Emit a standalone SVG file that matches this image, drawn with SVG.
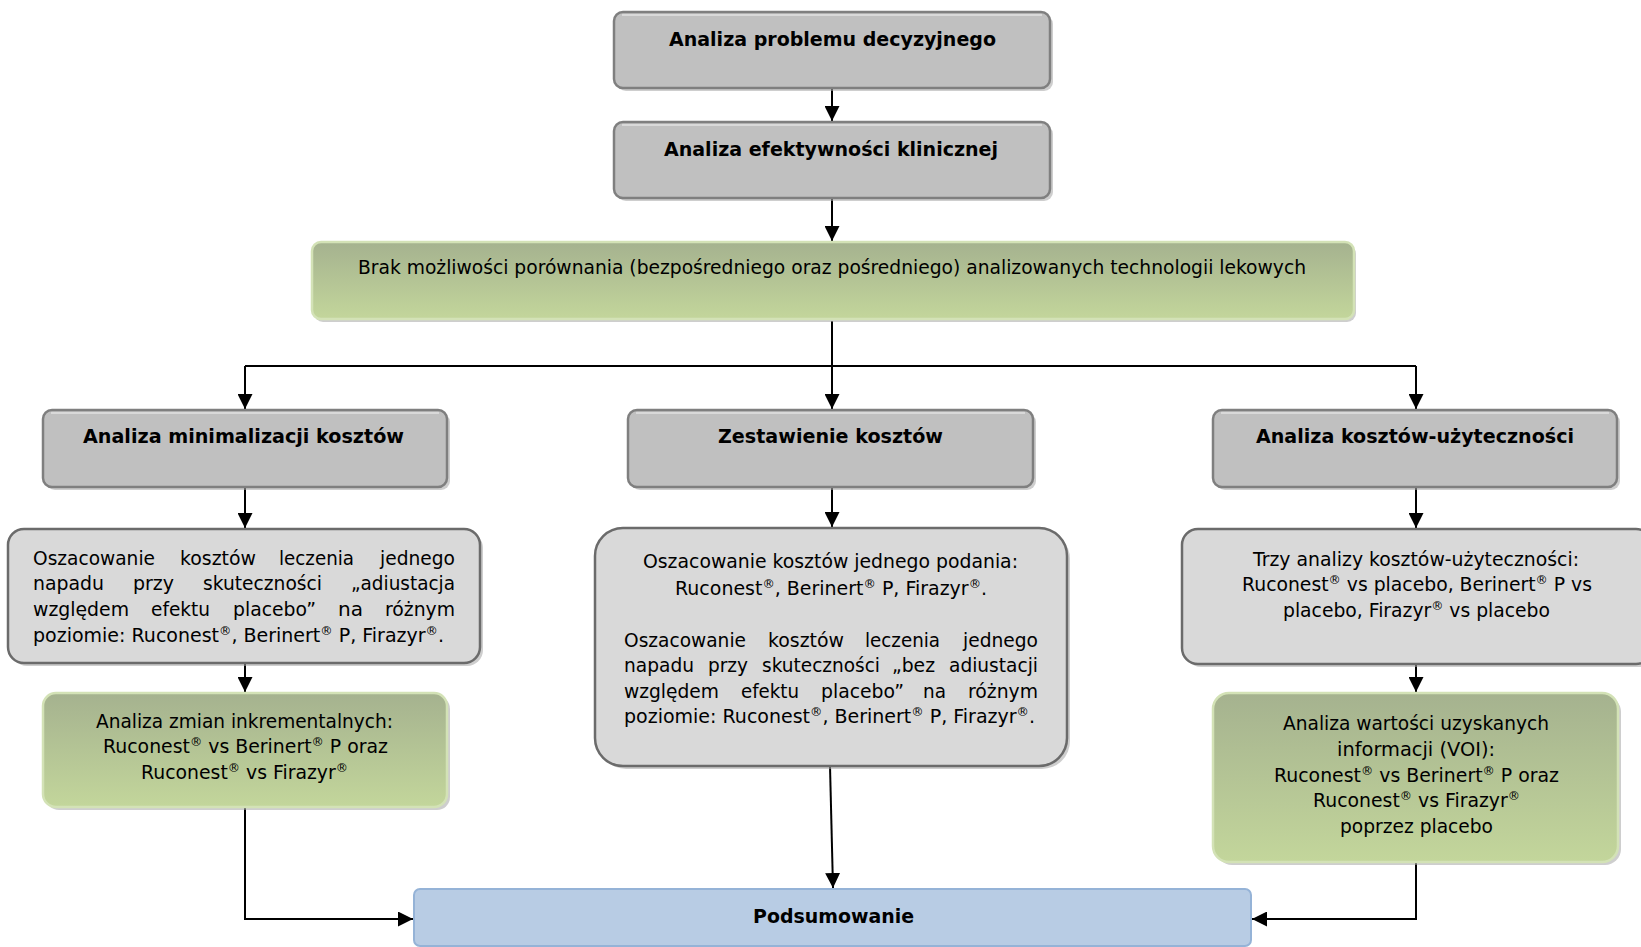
<svg xmlns="http://www.w3.org/2000/svg" width="1641" height="947" viewBox="0 0 1641 947">
<style>
.t{font-family:"DejaVu Sans","Verdana",sans-serif;font-size:20px;fill:#000}
.b{font-family:"DejaVu Sans","Verdana",sans-serif;font-size:19px;font-weight:bold;fill:#000}
.r{font-size:13px;baseline-shift:7px}
.hd{fill:#C0C0C0;stroke:#7F7F7F;stroke-width:2.5}
.lt{fill:#D9D9D9;stroke:#6B6B6B;stroke-width:2.5}
.gr{fill:url(#gg);stroke:#D3E2B6;stroke-width:2.5}
.bl{fill:#B8CCE4;stroke:#95B3D7;stroke-width:2}
.sh{fill:#A6A6A6;opacity:0.55}
.hi{fill:none;stroke:#FFFFFF;stroke-width:1.2;opacity:0.8}
.c{fill:none;stroke:#000;stroke-width:2}
.a{marker-end:url(#ar)}
</style>
<defs>
<linearGradient id="gg" x1="0" y1="0" x2="0" y2="1">
<stop offset="0" stop-color="#A5B28F"/>
<stop offset="1" stop-color="#C3D69B"/>
</linearGradient>
<marker id="ar" markerUnits="userSpaceOnUse" markerWidth="15" markerHeight="15" viewBox="0 0 10 10" refX="10" refY="5" orient="auto">
<path d="M0,0 L10,5 L0,10 z" fill="#000"/>
</marker>
</defs>
<rect width="1641" height="947" fill="#FFFFFF"/>

<g id="connectors">
<path class="c a" d="M832,88 V121"/>
<path class="c a" d="M832,198 V241"/>
<path class="c" d="M832,321 V366 M245,366 H1416"/>
<path class="c a" d="M245,366 V409"/>
<path class="c a" d="M832,366 V409"/>
<path class="c a" d="M1416,366 V409"/>
<path class="c a" d="M245,487 V528"/>
<path class="c a" d="M832,487 V527"/>
<path class="c a" d="M1416,487 V528"/>
<path class="c a" d="M245,663 V692"/>
<path class="c a" d="M1416,664 V692"/>
<path class="c a" d="M245,807 V919 H413"/>
<path class="c a" d="M830,766 L833,888"/>
<path class="c a" d="M1416,862 V919 H1252"/>
</g>

<g id="n1">
<rect class="sh" x="617" y="15" width="436" height="76" rx="9"/>
<rect class="hd" x="614" y="12" width="436" height="76" rx="9"/>
<path class="hi" d="M622,15 H1042"/>
<text class="b" x="669" y="46" textLength="327" lengthAdjust="spacingAndGlyphs">Analiza problemu decyzyjnego</text>
</g>

<g id="n2">
<rect class="sh" x="617" y="125" width="436" height="76" rx="9"/>
<rect class="hd" x="614" y="122" width="436" height="76" rx="9"/>
<path class="hi" d="M622,125 H1042"/>
<text class="b" x="664" y="156" textLength="334" lengthAdjust="spacingAndGlyphs">Analiza efektywności klinicznej</text>
</g>

<g id="n3">
<rect class="sh" x="314" y="245" width="1042" height="77" rx="9"/>
<rect class="gr" x="312" y="242" width="1042" height="77" rx="9"/>
<text class="t" x="358" y="274" textLength="948" lengthAdjust="spacingAndGlyphs">Brak możliwości porównania (bezpośredniego oraz pośredniego) analizowanych technologii lekowych</text>
</g>

<g id="n4">
<rect class="sh" x="46" y="413" width="404" height="77" rx="9"/>
<rect class="hd" x="43" y="410" width="404" height="77" rx="9"/>
<path class="hi" d="M51,413 H439"/>
<text class="b" x="83" y="443" textLength="321" lengthAdjust="spacingAndGlyphs">Analiza minimalizacji kosztów</text>
</g>

<g id="n5">
<rect class="sh" x="631" y="413" width="405" height="77" rx="9"/>
<rect class="hd" x="628" y="410" width="405" height="77" rx="9"/>
<path class="hi" d="M636,413 H1025"/>
<text class="b" x="718" y="443" textLength="225" lengthAdjust="spacingAndGlyphs">Zestawienie kosztów</text>
</g>

<g id="n6">
<rect class="sh" x="1216" y="413" width="404" height="77" rx="9"/>
<rect class="hd" x="1213" y="410" width="404" height="77" rx="9"/>
<path class="hi" d="M1221,413 H1609"/>
<text class="b" x="1256" y="443" textLength="318" lengthAdjust="spacingAndGlyphs">Analiza kosztów-użyteczności</text>
</g>

<g id="n7">
<rect class="sh" x="11" y="532" width="472" height="134" rx="16"/>
<rect class="lt" x="8" y="529" width="472" height="134" rx="16"/>
<text class="t" y="565"><tspan x="33" textLength="122" lengthAdjust="spacingAndGlyphs">Oszacowanie</tspan><tspan x="180" textLength="76" lengthAdjust="spacingAndGlyphs">kosztów</tspan><tspan x="279" textLength="75" lengthAdjust="spacingAndGlyphs">leczenia</tspan><tspan x="380" textLength="75" lengthAdjust="spacingAndGlyphs">jednego</tspan></text>
<text class="t" y="590"><tspan x="33" textLength="71" lengthAdjust="spacingAndGlyphs">napadu</tspan><tspan x="133" textLength="41" lengthAdjust="spacingAndGlyphs">przy</tspan><tspan x="203" textLength="119" lengthAdjust="spacingAndGlyphs">skuteczności</tspan><tspan x="351" textLength="104" lengthAdjust="spacingAndGlyphs">„adiustacja</tspan></text>
<text class="t" y="616"><tspan x="33" textLength="96" lengthAdjust="spacingAndGlyphs">względem</tspan><tspan x="151" textLength="59" lengthAdjust="spacingAndGlyphs">efektu</tspan><tspan x="233" textLength="83" lengthAdjust="spacingAndGlyphs">placebo”</tspan><tspan x="338" textLength="25" lengthAdjust="spacingAndGlyphs">na</tspan><tspan x="385" textLength="70" lengthAdjust="spacingAndGlyphs">różnym</tspan></text>
<text class="t" x="33" y="642" textLength="411" lengthAdjust="spacingAndGlyphs">poziomie: Ruconest<tspan class="r">®</tspan>, Berinert<tspan class="r">®</tspan> P, Firazyr<tspan class="r">®</tspan>.</text>
</g>

<g id="n8">
<rect class="sh" x="598" y="531" width="472" height="238" rx="28"/>
<rect class="lt" x="595" y="528" width="472" height="238" rx="28"/>
<text class="t" x="643" y="568" textLength="375" lengthAdjust="spacingAndGlyphs">Oszacowanie kosztów jednego podania:</text>
<text class="t" x="675" y="595" textLength="312" lengthAdjust="spacingAndGlyphs">Ruconest<tspan class="r">®</tspan>, Berinert<tspan class="r">®</tspan> P, Firazyr<tspan class="r">®</tspan>.</text>
<text class="t" y="647"><tspan x="624" textLength="122" lengthAdjust="spacingAndGlyphs">Oszacowanie</tspan><tspan x="768" textLength="76" lengthAdjust="spacingAndGlyphs">kosztów</tspan><tspan x="865" textLength="75" lengthAdjust="spacingAndGlyphs">leczenia</tspan><tspan x="963" textLength="75" lengthAdjust="spacingAndGlyphs">jednego</tspan></text>
<text class="t" y="672"><tspan x="624" textLength="70" lengthAdjust="spacingAndGlyphs">napadu</tspan><tspan x="708" textLength="40" lengthAdjust="spacingAndGlyphs">przy</tspan><tspan x="762" textLength="118" lengthAdjust="spacingAndGlyphs">skuteczności</tspan><tspan x="892" textLength="43" lengthAdjust="spacingAndGlyphs">„bez</tspan><tspan x="949" textLength="89" lengthAdjust="spacingAndGlyphs">adiustacji</tspan></text>
<text class="t" y="698"><tspan x="624" textLength="95" lengthAdjust="spacingAndGlyphs">względem</tspan><tspan x="741" textLength="58" lengthAdjust="spacingAndGlyphs">efektu</tspan><tspan x="821" textLength="83" lengthAdjust="spacingAndGlyphs">placebo”</tspan><tspan x="923" textLength="23" lengthAdjust="spacingAndGlyphs">na</tspan><tspan x="968" textLength="70" lengthAdjust="spacingAndGlyphs">różnym</tspan></text>
<text class="t" x="624" y="723" textLength="411" lengthAdjust="spacingAndGlyphs">poziomie: Ruconest<tspan class="r">®</tspan>, Berinert<tspan class="r">®</tspan> P, Firazyr<tspan class="r">®</tspan>.</text>
</g>

<g id="n9">
<rect class="sh" x="1185" y="532" width="470" height="135" rx="16"/>
<rect class="lt" x="1182" y="529" width="470" height="135" rx="16"/>
<text class="t" x="1253" y="566" textLength="326" lengthAdjust="spacingAndGlyphs">Trzy analizy kosztów-użyteczności:</text>
<text class="t" x="1242" y="591" textLength="350" lengthAdjust="spacingAndGlyphs">Ruconest<tspan class="r">®</tspan> vs placebo, Berinert<tspan class="r">®</tspan> P vs</text>
<text class="t" x="1283" y="617" textLength="267" lengthAdjust="spacingAndGlyphs">placebo, Firazyr<tspan class="r">®</tspan> vs placebo</text>
</g>

<g id="n10">
<rect class="sh" x="46" y="696" width="404" height="114" rx="13"/>
<rect class="gr" x="43" y="693" width="404" height="114" rx="13"/>
<text class="t" x="96" y="728" textLength="297" lengthAdjust="spacingAndGlyphs">Analiza zmian inkrementalnych:</text>
<text class="t" x="103" y="753" textLength="285" lengthAdjust="spacingAndGlyphs">Ruconest<tspan class="r">®</tspan> vs Berinert<tspan class="r">®</tspan> P oraz</text>
<text class="t" x="141" y="779" textLength="207" lengthAdjust="spacingAndGlyphs">Ruconest<tspan class="r">®</tspan> vs Firazyr<tspan class="r">®</tspan></text>
</g>

<g id="n11">
<rect class="sh" x="1216" y="696" width="405" height="169" rx="16"/>
<rect class="gr" x="1213" y="693" width="405" height="169" rx="16"/>
<text class="t" x="1283" y="730" textLength="266" lengthAdjust="spacingAndGlyphs">Analiza wartości uzyskanych</text>
<text class="t" x="1337" y="756" textLength="158" lengthAdjust="spacingAndGlyphs">informacji (VOI):</text>
<text class="t" x="1274" y="782" textLength="285" lengthAdjust="spacingAndGlyphs">Ruconest<tspan class="r">®</tspan> vs Berinert<tspan class="r">®</tspan> P oraz</text>
<text class="t" x="1313" y="807" textLength="207" lengthAdjust="spacingAndGlyphs">Ruconest<tspan class="r">®</tspan> vs Firazyr<tspan class="r">®</tspan></text>
<text class="t" x="1340" y="833" textLength="153" lengthAdjust="spacingAndGlyphs">poprzez placebo</text>
</g>

<g id="n12">
<rect class="bl" x="414" y="889" width="837" height="57" rx="6"/>
<text class="b" x="753" y="923" textLength="161" lengthAdjust="spacingAndGlyphs">Podsumowanie</text>
</g>
</svg>
